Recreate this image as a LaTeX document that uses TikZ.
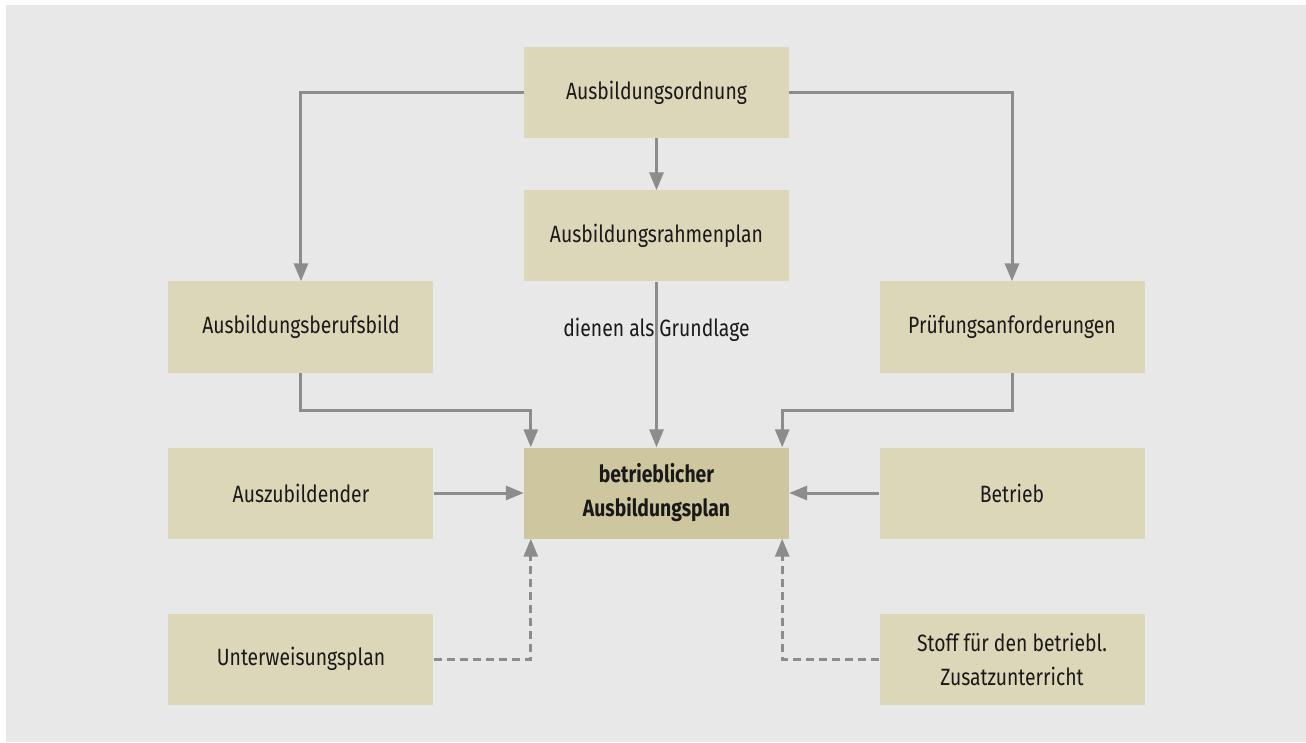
\documentclass[tikz,border=0pt]{standalone}
\usepackage{fontspec}
\setmainfont{Fira Sans}[FakeStretch=0.82]
\usepackage{tikz}
\usetikzlibrary{arrows.meta}
\usetikzlibrary{shapes,positioning}
\definecolor{bgrey}{HTML}{E8E8E8}
\definecolor{boxfill}{HTML}{DDD7BA}
\definecolor{planfill}{HTML}{CEC69F}
\definecolor{linegrey}{HTML}{8C8C8C}
\tikzset{>={Triangle[width=14pt,length=18pt]},
  box/.style={fill=boxfill, minimum width=265pt, minimum height=91pt,
    align=center, font=\fontsize{23.6}{34}\selectfont, text=black!90},
  mainbox/.style={box, fill=planfill, font=\fontsize{23.6}{34}\selectfont\bfseries},
  link/.style={draw=linegrey, line width=3pt, ->},
  hint/.style={link, dash pattern=on 8pt off 5pt}}

\begin{document}
\begin{tikzpicture}[node distance=166pt]
    \useasboundingbox (-656.5pt,493pt) rectangle (649.5pt,-249pt);
    \fill[bgrey] (-650.5pt,488pt) rectangle (649.5pt,-249pt);

    \node[mainbox] (plan) at (0,0) {betrieblicher\\Ausbildungsplan};
    \node[box] (rahmen) [above of=plan, node distance=257pt] {Ausbildungsrahmenplan};
    \node[box] (ordnung) [above of=rahmen, node distance=143.5pt] {Ausbildungsordnung};
    \node[box] (azubi) [left of=plan, node distance=355.5pt] {Auszubildender};
    \node[box] (betrieb) [right of=plan, node distance=355.5pt] {Betrieb};
    \node[box] (beruf) [above of=azubi] {Ausbildungsberufsbild};
    \node[box] (pruef) [above of=betrieb] {Prüfungsanforderungen};
    \node[box] (unterw) [below of=azubi] {Unterweisungsplan};
    \node[box] (stoff) [below of=betrieb] {Stoff für den betriebl.\\Zusatzunterricht};

    \path[link] (ordnung.west) -| (beruf.north);
    \path[link] (ordnung.east) -| (pruef.north);
    \path[link] (ordnung) -- (rahmen);
    \path[link] (rahmen) -- (plan)
      node[pos=0.293, font=\fontsize{23.6}{34}\selectfont, text=black!90] (basis) {dienen als Grundlage};
    \path[link] (beruf.south) -- ++(0,-38pt) -| ([xshift=7pt]plan.north west);
    \path[link] (pruef.south) -- ++(0,-38pt) -| ([xshift=-7pt]plan.north east);
    \path[link] (azubi) -- (plan);
    \path[link] (betrieb) -- (plan);
    \path[hint] (unterw.east) -| ([xshift=7pt]plan.south west);
    \path[hint] (stoff.west) -| ([xshift=-7pt]plan.south east);
\end{tikzpicture}
\end{document}
